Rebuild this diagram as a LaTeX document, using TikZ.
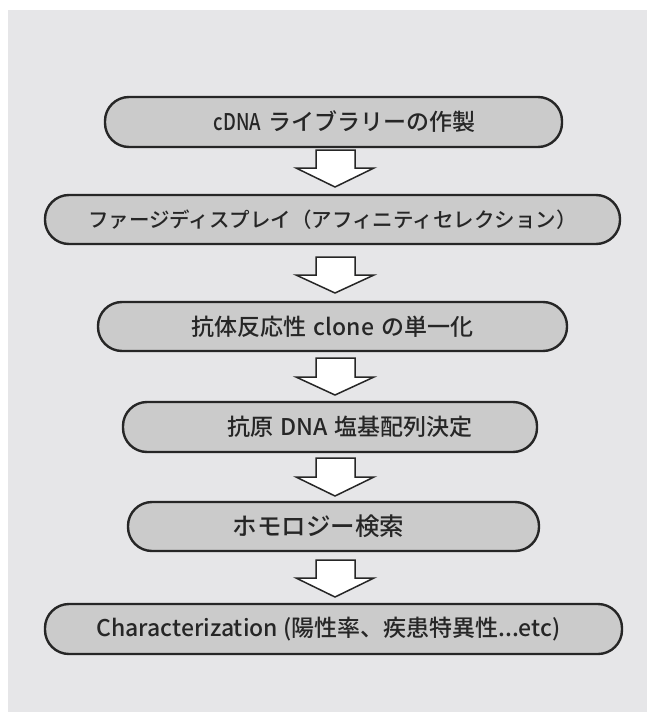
\documentclass[tikz,border=0pt]{standalone}
\usepackage{fontspec}
\newfontfamily\jp{Noto Sans CJK JP}[UprightFont={* Medium}]
\definecolor{panel}{HTML}{E6E6E8}
\definecolor{boxfill}{HTML}{CBCBCB}
\definecolor{ink}{HTML}{262626}
\newcommand\wsp{\hspace{7bp}}
\newcommand\lpad[1]{\hspace*{#1}}
\tikzset{
  stepbox/.style={draw=ink, line width=2.4bp, fill=boxfill, rectangle, rounded corners=24bp,
    inner sep=0pt, outer sep=0pt, font=\jp\fontsize{23bp}{26bp}\selectfont, text=ink},
  longtext/.style={font=\jp\fontsize{20.5bp}{24bp}\selectfont},
  blockarrow/.style={draw=ink, line width=1.5bp, fill=white, line join=miter}
}
\begin{document}
\begin{tikzpicture}[x=1bp,y=-1bp]
\useasboundingbox (0,0) rectangle (647,712);
\fill[white] (0,0) rectangle (647,712);
\fill[panel] (8,10) rectangle (647,712);
% boxes
\node[stepbox, minimum width=457bp, minimum height=50bp] (b1) at (333.5,122) {\lpad{22bp}\scalebox{0.8}[1]{cDNA}\wsp ライブラリーの作製};
\node[stepbox, longtext, minimum width=575bp, minimum height=49bp] (b2) at (332.5,219.5) {ファージディスプレイ（アフィニティセレクション）};
\node[stepbox, minimum width=469bp, minimum height=49bp] (b3) at (332.5,326.5) {抗体反応性\wsp clone\wsp の単一化};
\node[stepbox, minimum width=414bp, minimum height=50bp] (b4) at (330,427) {\lpad{40bp}抗原\wsp DNA\wsp 塩基配列決定};
\node[stepbox, font=\jp\fontsize{24.5bp}{28bp}\selectfont, minimum width=411bp, minimum height=49bp] (b5) at (333.5,526.5) {ホモロジー検索\lpad{30bp}};
\node[stepbox, minimum width=577bp, minimum height=50bp] (b6) at (333.5,629) {Characterization (陽性率、疾患特異性...etc)\lpad{10bp}};
% block arrows between boxes
\newcommand\flowarrow[3]{% top, headstart, tip
  \draw[blockarrow] (316,#1) -- (355,#1) -- (355,#2) -- (374,#2) -- (335,#3) -- (296,#2) -- (316,#2) -- cycle;}
\flowarrow{150}{168}{187}
\flowarrow{257}{275}{293}
\flowarrow{358}{377}{395}
\flowarrow{458}{477}{496}
\flowarrow{560}{578}{597}
\end{tikzpicture}
\end{document}
